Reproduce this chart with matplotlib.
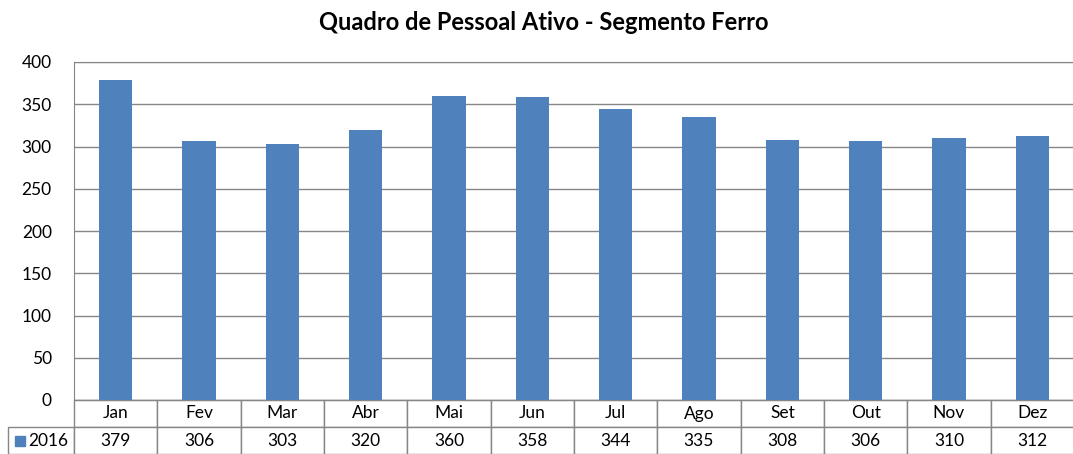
import matplotlib.pyplot as plt
import matplotlib.patches as mpatches
import numpy as np

months = ['Jan', 'Fev', 'Mar', 'Abr', 'Mai', 'Jun', 'Jul', 'Ago', 'Set', 'Out', 'Nov', 'Dez']
values_2016 = [379, 306, 303, 320, 360, 358, 344, 335, 308, 306, 310, 312]
series_name = '2016'
yticks = [0, 50, 100, 150, 200, 250, 300, 350, 400]

bar_color = '#4f81bd'
line_color = '#868686'
W, H = 1073, 454

plt.rcParams['font.family'] = ['Lato', 'DejaVu Sans']

fig = plt.figure(figsize=(W / 100, H / 100), dpi=100)
ax_w = 1074 - 74
ax = fig.add_axes([74 / W, (H - 400) / H, ax_w / W, 338 / H])

x = np.arange(len(months))
ax.bar(x, values_2016, width=0.4, color=bar_color, zorder=3)
ax.set_xlim(-0.5, len(months) - 0.5)
ax.set_ylim(0, 400)
ax.set_yticks(yticks)
ax.set_xticks([])
ax.tick_params(axis='y', length=0, labelsize=12.5, pad=16)
ax.grid(axis='y', color=line_color, linewidth=1, zorder=0)
for s in ax.spines.values():
    s.set_color(line_color)

fig.suptitle('Quadro de Pessoal Ativo - Segmento Ferro', x=544 / W, y=1 - 23 / H,
             va='center', fontsize=17, fontweight='bold')

# data table under the chart
row_h = 27 / 338
lab_w = 66 / ax_w
tab = ax.table(cellText=[[str(v) for v in values_2016]],
               colLabels=months, rowLabels=[series_name],
               cellLoc='center', rowLoc='center',
               bbox=[0, -2 * row_h, 1, 2 * row_h])
tab.auto_set_font_size(False)
tab._autoColumns = []  # keep fixed width for the row label column
for (r, c), cell in tab.get_celld().items():
    cell.set_edgecolor(line_color)
    cell.set_linewidth(1)
    cell.get_text().set_fontsize(12.5)
    if c == -1:
        cell.set_width(lab_w)
        cell.get_text().set_ha('right')
        cell.PAD = 0.09

# legend key inside row label cell
ax.add_patch(mpatches.Rectangle((-59 / ax_w, -1.72 * row_h), 10 / ax_w, 10 / 338,
                                transform=ax.transAxes, color=bar_color, clip_on=False))

fig.savefig('out.png', dpi=100)
